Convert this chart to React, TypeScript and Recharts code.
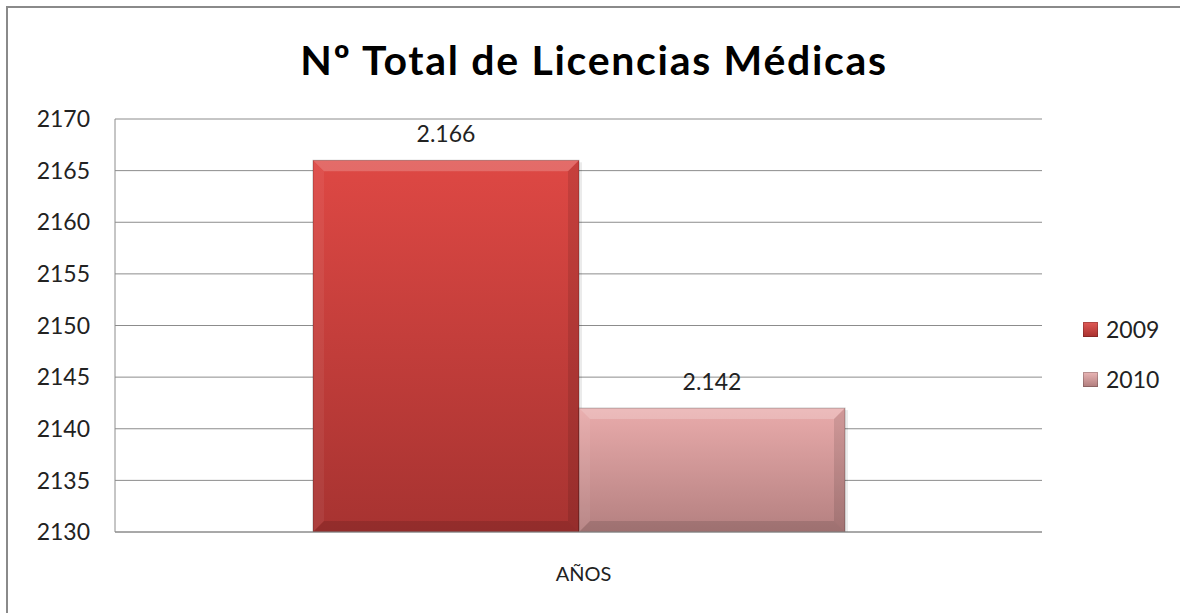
import { BarChart, Bar, XAxis, YAxis, CartesianGrid, Legend, LabelList } from "recharts";

const categories = ["AÑOS"];
const series2009 = [2166];
const series2010 = [2142];
const seriesNames = ["2009", "2010"];
const yTicks = [2130, 2135, 2140, 2145, 2150, 2155, 2160, 2165, 2170];

const FONT = "Lato, 'Open Sans', sans-serif";

const data = categories.map((c, i) => ({
  name: c,
  [seriesNames[0]]: series2009[i],
  [seriesNames[1]]: series2010[i],
}));

const fmt = (v: any) => String(v).replace(/\B(?=(\d{3})+(?!\d))/g, ".");

// bevelled bar, like the old office 3d look
const BevelBar = (props: any) => {
  const { x, y, width, height, gradId } = props;
  if (!height || height <= 0) return null;
  const b = Math.min(11, height / 2, width / 2);
  const r = x + width;
  const btm = y + height;
  return (
    <g>
      <rect x={x + 3} y={y + 2} width={width} height={height} fill="#000" opacity={0.08} />
      <rect x={x} y={y} width={width} height={height} fill={`url(#${gradId})`} />
      <polygon points={`${x},${y} ${r},${y} ${r - b},${y + b} ${x + b},${y + b}`} fill="#fff" opacity={0.2} />
      <polygon points={`${x},${y} ${x + b},${y + b} ${x + b},${btm - b} ${x},${btm}`} fill="#fff" opacity={0.06} />
      <polygon points={`${r},${y} ${r},${btm} ${r - b},${btm - b} ${r - b},${y + b}`} fill="#000" opacity={0.1} />
      <polygon points={`${x},${btm} ${r},${btm} ${r - b},${btm - b} ${x + b},${btm - b}`} fill="#000" opacity={0.12} />
      <rect x={x} y={y} width={width} height={height} fill="none" stroke="#000" strokeOpacity={0.25} strokeWidth={1} />
    </g>
  );
};

const LegendBox = ({ payload }: any) => (
  <div style={{ fontFamily: FONT, fontSize: 23, color: "#222", width: 90 }}>
    {(payload || []).map((p: any, i: number) => (
      <div key={p.value} style={{ display: "flex", alignItems: "center", height: 50 }}>
        <span
          style={{
            display: "inline-block",
            width: 15,
            height: 15,
            marginRight: 8,
            background: i === 0 ? "linear-gradient(#e05a56, #a8302e)" : "linear-gradient(#eab6b6, #b07c7c)",
            boxShadow: "inset 0 0 0 1px rgba(0,0,0,0.2)",
          }}
        />
        <span>{p.value}</span>
      </div>
    ))}
  </div>
);

export default function App() {
  return (
    <div style={{ position: "fixed", left: 0, top: 0, width: 1180, height: 613, background: "#fff", overflow: "hidden" }}>
      <div
        style={{
          position: "absolute",
          left: 6,
          top: 6,
          width: 1200,
          height: 640,
          border: "2px solid #8a8a8a",
        }}
      />
      <div
        style={{
          position: "absolute",
          left: 0,
          top: 35,
          width: 1188,
          textAlign: "center",
          fontFamily: FONT,
          fontWeight: 700,
          fontSize: 41,
          letterSpacing: 1.7,
          color: "#000",
        }}
      >
        Nº Total de Licencias Médicas
      </div>
      <div style={{ position: "absolute", left: 0, top: 0 }}>
        <BarChart
          width={1180}
          height={613}
          data={data}
          margin={{ top: 119, right: 138, left: 0, bottom: 0 }}
          barGap={0}
          barSize={266}
        >
          <defs>
            <linearGradient id="g2009" x1="0" y1="0" x2="0" y2="1">
              <stop offset="0%" stopColor="#de4844" />
              <stop offset="100%" stopColor="#a73331" />
            </linearGradient>
            <linearGradient id="g2010" x1="0" y1="0" x2="0" y2="1">
              <stop offset="0%" stopColor="#e9abab" />
              <stop offset="100%" stopColor="#b48080" />
            </linearGradient>
          </defs>
          <CartesianGrid vertical={false} stroke="#8c8c8c" />
          <XAxis
            dataKey="name"
            height={81}
            stroke="#8c8c8c"
            tickSize={0}
            tickMargin={35}
            tick={{ fontFamily: FONT, fontSize: 20, fill: "#222", dx: 5 }}
          />
          <YAxis
            width={115}
            domain={[2130, 2170]}
            ticks={yTicks}
            allowDataOverflow
            stroke="#8c8c8c"
            tickLine={false}
            tickSize={0}
            tickMargin={25}
            tick={{ fontFamily: FONT, fontSize: 23, fill: "#222" }}
          />
          <Legend
            content={<LegendBox />}
            layout="vertical"
            align="right"
            verticalAlign="middle"
            wrapperStyle={{ position: "absolute", left: 1083, top: 304, width: 0, height: 0, overflow: "visible" }}
          />
          <Bar
            dataKey={seriesNames[0]}
            fill="#d2403d"
            shape={<BevelBar gradId="g2009" />}
            isAnimationActive={false}
          >
            <LabelList
              dataKey={seriesNames[0]}
              position="top"
              offset={18}
              formatter={fmt}
              style={{ fontFamily: FONT, fontSize: 23, fill: "#222" }}
            />
          </Bar>
          <Bar
            dataKey={seriesNames[1]}
            fill="#d49c9c"
            shape={<BevelBar gradId="g2010" />}
            isAnimationActive={false}
          >
            <LabelList
              dataKey={seriesNames[1]}
              position="top"
              offset={18}
              formatter={fmt}
              style={{ fontFamily: FONT, fontSize: 23, fill: "#222" }}
            />
          </Bar>
        </BarChart>
      </div>
    </div>
  );
}
